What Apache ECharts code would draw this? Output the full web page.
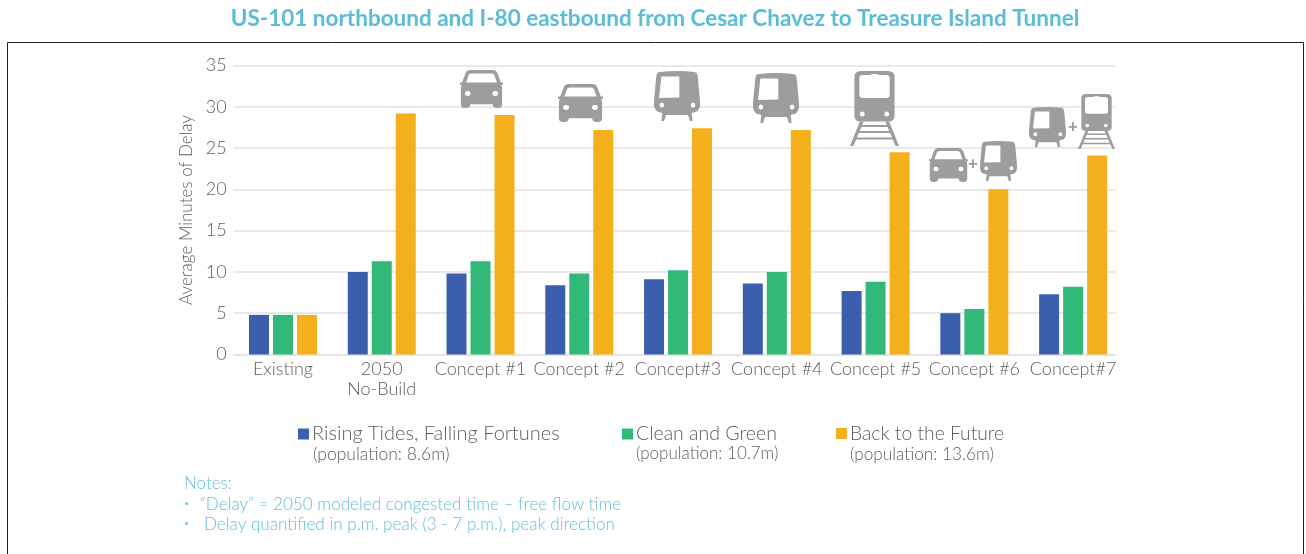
<!DOCTYPE html>
<html><head><meta charset="utf-8">
<style>html,body{margin:0;padding:0;background:#fff}#c{width:1306px;height:554px}</style>
<script src="https://cdn.jsdelivr.net/npm/echarts@6/dist/echarts.min.js"></script>
</head><body><div id="c"></div>
<script>
const categories = ['Existing','2050\nNo-Build','Concept #1','Concept #2','Concept#3','Concept #4','Concept #5','Concept #6','Concept#7'];
const risingTides = [4.8,10,9.8,8.4,9.1,8.6,7.7,5,7.3];
const cleanGreen = [4.8,11.3,11.3,9.8,10.2,10,8.8,5.5,8.2];
const backFuture = [4.8,29.2,29,27.2,27.4,27.2,24.5,20,24.1];
const seriesNames = ['Rising Tides, Falling Fortunes','Clean and Green','Back to the Future'];
const populations = ['(population: 8.6m)','(population: 10.7m)','(population: 13.6m)'];
const notes = ['Notes:','“Delay” = 2050 modeled congested time – free flow time','Delay quantified in p.m. peak (3 - 7 p.m.), peak direction'];

const FONT = 'Lato';
const GREY = '#9d9d9d', TXT = '#5e5e5e', BLUE = '#62c0da', GRID = '#e2e2e2';

const iconPaths = {
  carBody: 'M24 0 L76 0 Q84 0 87 8 L95 33 L100 33 L100 38 L96 40 Q98 44 98 48 L98 88 Q98 100 90 100 L86 100 Q76 100 76 90 L24 90 Q24 100 14 100 L10 100 Q2 100 2 88 L2 48 Q2 44 4 40 L0 38 L0 33 L5 33 L13 8 Q16 0 24 0Z',
  carWin: 'M26 9 L74 9 Q78 9 80 14 L86 33 L14 33 L20 14 Q22 9 26 9Z',
  metroBody: 'M12 2 Q50 -2 88 2 Q94 3 95 10 L100 60 Q102 78 90 82 L82 84 L84 100 L78 100 L74 88 L26 88 L22 100 L16 100 L18 84 L10 82 Q-2 78 0 60 L5 10 Q6 3 12 2Z',
  metroWin: 'M16 11 L55 11 L55 53 L11 54Z',
  trainBody: 'M22 0 L78 0 Q91 0 91 12 L91 90 Q91 101 78 101 L22 101 Q9 101 9 90 L9 12 Q9 0 22 0Z',
  trainWin: 'M26 8 L42 8 L44 6 L56 6 L58 8 L74 8 Q81 8 81 14 L81 48 Q81 54 74 54 L26 54 Q19 54 19 48 L19 14 Q19 8 26 8Z',
  trainTrack: 'M20 101 L28 101 L7 150 L0 150Z M72 101 L80 101 L100 150 L93 150Z M19 108 L81 108 L82 112 L18 112Z M13 120 L87 120 L88 124 L12 124Z M8 133 L92 133 L93 137 L7 137Z'
};
Object.keys(iconPaths).forEach(k => echarts.graphic.registerShape(k, echarts.graphic.extendPath(iconPaths[k])));

const p = (type, fill) => ({type, shape:{}, style:{fill}});
const c = (x, y, r, fill) => ({type:'circle', shape:{cx:x, cy:y, r}, style:{fill}});
function car(x,y,w,h){return {type:'group',x,y,scaleX:w/100,scaleY:h/100,children:[
  p('carBody',GREY),p('carWin','#fff'),c(18,62,6.5,'#fff'),c(82,62,6.5,'#fff')]};}
function metro(x,y,w,h){return {type:'group',x,y,scaleX:w/100,scaleY:h/100,children:[
  p('metroBody',GREY),p('metroWin','#fff'),c(17,68,5,'#fff'),c(85,68,5,'#fff')]};}
function train(x,y,w,h){return {type:'group',x,y,scaleX:w/100,scaleY:h/150,children:[
  p('trainBody',GREY),p('trainWin','#fff'),p('trainTrack',GREY),c(25,86,5,'#fff'),c(75,86,5,'#fff')]};}
function plus(x,y){return {type:'text',x,y,style:{text:'+',fill:GREY,font:'900 17px '+FONT,textAlign:'center',textVerticalAlign:'middle'}};}
const txt = (text,x,y,size,fill,weight) => ({type:'text',x,y,style:{text,fill,font:(weight||300)+' '+size+'px '+FONT,textVerticalAlign:'middle'}});

const graphic = [
  {type:'rect',shape:{x:1115.5,y:58,width:12,height:298},style:{fill:'#fff'},z:5},
  {type:'rect',shape:{x:7.5,y:42.5,width:1296,height:560},style:{fill:'none',stroke:'#222',lineWidth:1}},
  car(460,70,43,38), car(558,84,45,38),
  metro(654,71,46,50), metro(753,73,46,50),
  train(850,71,49,75),
  car(929,148,39,34), plus(973,164), metro(980,141,37,40),
  metro(1029,107,37,40), plus(1073,127), train(1078,94,37,55),
  txt(populations[0],313,454,17.5,TXT), txt(populations[1],636,454,17,TXT), txt(populations[2],850,454,17.2,TXT),
  txt(notes[0],184,484,17,BLUE),
  txt('•',184,504,9,BLUE), txt(notes[1],200,504,17.1,BLUE),
  txt('•',184,524,9,BLUE), txt(notes[2],204,524,17.1,BLUE)
];
graphic.forEach(g=>{ if(g.z==null) g.z=20; if(g.children) g.children.forEach(k=>k.z=20); });

const legendSizes = [20,19.5,19.3];
const legendAt = [298,622,836].map((left,i)=>({
  data:[seriesNames[i]], left, top:424, padding:0, itemWidth:11, itemHeight:11, itemGap:0, icon:'rect',
  textStyle:{color:TXT,fontFamily:FONT,fontWeight:300,fontSize:legendSizes[i],padding:[0,0,0,-2]}
}));
const mk = (name,data,color)=>({name,type:'bar',data,barWidth:20,barGap:'20%',itemStyle:{color},animation:false});

const chart = echarts.init(document.getElementById('c'),null,{renderer:'canvas'});
chart.setOption({
  animation:false,
  title:{text:'US-101 northbound and I-80 eastbound from Cesar Chavez to Treasure Island Tunnel',left:650,textAlign:'center',top:2,
    textStyle:{color:'#5bbcd6',fontFamily:FONT,fontWeight:700,fontSize:22.5}},
  legend:legendAt,
  grid:{left:233.6,top:65.5,width:888.9,height:289},
  xAxis:{type:'category',data:categories,axisTick:{show:false},
    axisLine:{lineStyle:{color:GRID,width:1.5}},
    axisLabel:{interval:0,color:TXT,fontFamily:FONT,fontWeight:300,fontSize:18,lineHeight:20,margin:5}},
  yAxis:{type:'value',min:0,max:35,interval:5,name:'Average Minutes of Delay',nameLocation:'middle',nameGap:39,
    nameTextStyle:{color:TXT,fontFamily:FONT,fontWeight:300,fontSize:17},
    axisLine:{show:false},axisTick:{show:false},
    axisLabel:{color:TXT,fontFamily:FONT,fontWeight:300,fontSize:18,margin:7},
    splitLine:{lineStyle:{color:GRID,width:1.5}}},
  series:[mk(seriesNames[0],risingTides,'#3b5fad'),mk(seriesNames[1],cleanGreen,'#32b97a'),mk(seriesNames[2],backFuture,'#f3b01c')],
  graphic
});
</script></body></html>
